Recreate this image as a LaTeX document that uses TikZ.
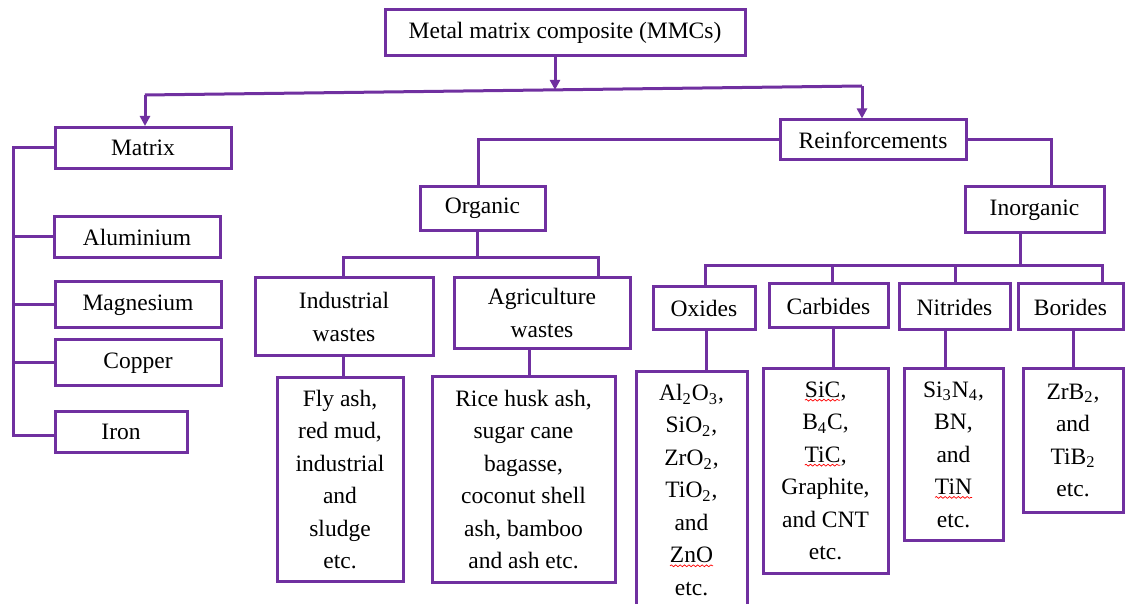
\documentclass[tikz,border=0pt]{standalone}
\usepackage{fontspec}
\setmainfont{Liberation Serif}
\usetikzlibrary{arrows.meta, decorations.pathmorphing}
\definecolor{mmcpurple}{HTML}{7030A0}
% red wavy underline used under a few formula names
\newcommand\spellchk[1]{\tikz[baseline=(w.base), x=1pt, y=1pt]{%
  \node[inner sep=0pt, outer sep=0pt, minimum width=0pt, minimum height=0pt,
        draw=none, fill=none] (w) {#1};
  \draw[red, line width=0.35pt, decorate,
        decoration={snake, amplitude=0.45pt, segment length=2.2pt}]
    ([yshift=-1.4pt]w.base west) -- ([yshift=-1.4pt]w.base east);}}
\tikzset{
  box/.style={draw=mmcpurple, line width=1.5pt, fill=white, inner sep=0pt,
    align=center, font=\fontsize{11.75}{16.25}\selectfont},
  conn/.style={draw=mmcpurple, line width=1.5pt},
  arr/.style={conn, -{Triangle[length=5pt,width=5pt]}},
}
\begin{document}
\begin{tikzpicture}[x=0.5pt, y=-0.5pt]
\useasboundingbox (0,0) rectangle (1125,604);
\clip (0,0) rectangle (1125,604);

% ---- boxes (centre in px, size in pt) ----
\node[box, minimum width=180pt, minimum height=23pt] (top) at (565,33) {Metal matrix composite (MMCs)};

\node[box, minimum width=88pt, minimum height=20.5pt, text depth=0pt] (matrix) at (143,148) {Matrix};
\node[box, minimum width=83pt, minimum height=20.5pt, text depth=0pt] (alu) at (137,237) {Aluminium};
\node[box, minimum width=83pt, minimum height=23pt] (mag) at (138,305) {Magnesium};
\node[box, minimum width=83pt, minimum height=23pt] (cop) at (138,363) {Copper};
\node[box, minimum width=66pt, minimum height=20.5pt, text depth=0pt] (iron) at (121,432) {Iron};

\node[box, minimum width=93pt, minimum height=20pt] (reinf) at (873,140) {Reinforcements};
\node[box, minimum width=62.5pt, minimum height=22pt] (organic) at (482.5,208.5) {Organic};
\node[box, minimum width=69.5pt, minimum height=23pt] (inorganic) at (1034.5,210) {Inorganic};

\node[box, minimum width=89pt, minimum height=39pt] (industrial) at (344,317) {Industrial\\wastes};
\node[box, minimum width=88pt, minimum height=35.5pt] (agri) at (542,313) {Agriculture\\wastes};
\node[box, minimum width=63pt, minimum height=101.5pt] (flyash) at (340,479.5)
  {Fly ash,\\red mud,\\industrial\\and\\sludge\\etc.};
\node[box, minimum width=91.5pt, minimum height=102.5pt] (rice) at (523.5,479.5)
  {Rice husk ash,\\sugar cane\\bagasse,\\coconut shell\\ash, bamboo\\and ash etc.};

\node[box, minimum width=51pt, minimum height=21.5pt, text depth=0pt] (oxides) at (704,308.5) {Oxides};
\node[box, minimum width=59.5pt, minimum height=22pt] (carbides) at (828.5,306) {Carbides};
\node[box, minimum width=55.5pt, minimum height=23pt] (nitrides) at (954.5,307) {Nitrides};
\node[box, minimum width=52.5pt, minimum height=23pt] (borides) at (1070.5,307) {Borides};

\node[box, minimum width=55.5pt, minimum height=118pt] (oxlist) at (691.5,490)
  {Al\textsubscript{2}O\textsubscript{3},\\SiO\textsubscript{2},\\ZrO\textsubscript{2},\\TiO\textsubscript{2},\\and\\\spellchk{ZnO}\\etc.};
\node[box, minimum width=62.5pt, minimum height=102pt] (carlist) at (825.5,471)
  {\spellchk{SiC},\\B\textsubscript{4}C,\\\spellchk{TiC},\\Graphite,\\and CNT\\etc.};
\node[box, minimum width=49.5pt, minimum height=85.5pt] (nitlist) at (953.5,454.5)
  {Si\textsubscript{3}N\textsubscript{4},\\BN,\\and\\\spellchk{TiN}\\etc.};
\node[box, minimum width=50pt, minimum height=71.5pt] (borlist) at (1073,440.5)
  {ZrB\textsubscript{2},\\and\\TiB\textsubscript{2}\\etc.};

% ---- connector junctions ----
\coordinate (jl) at (145,95);
\coordinate (jr) at (862,86);
\coordinate (j0) at (555,89.9);
\coordinate (spine) at (13,0);
\coordinate (ri) at (1051,0);
\coordinate (ob) at (0,258);
\coordinate (agx) at (598,0);
\coordinate (ricex) at (529,0);
\coordinate (inx) at (1020,0);
\coordinate (ib) at (0,266);
\coordinate (borx) at (1102,0);
\coordinate (nitx) at (945,0);

% ---- top level ----
\draw[arr] (top.south -| j0) -- (j0);
\draw[conn] (jl) -- (jr);
\draw[arr] (jl) -- (jl |- matrix.north);
\draw[arr] (jr) -- (jr |- reinf.north);

% ---- matrix metals ----
\draw[conn] (matrix.west) -- (matrix.west -| spine) -- (spine |- 0,435) -- (iron.west |- 0,435);
\foreach \b in {alu, mag, cop}
  \draw[conn] (\b.west -| spine) -- (\b.west);

% ---- reinforcements ----
\draw[conn] (reinf.west) -| (organic.north -| 478,0);
\draw[conn] (reinf.east) -| (ri |- inorganic.north);

% ---- organic branch ----
\draw[conn] (organic.south -| 477,0) -- (477,258);
\draw[conn] (industrial.north -| 343,0) |- (agx |- ob) -- (agx |- agri.north);
\draw[conn] (industrial.south -| 343,0) -- (343,0 |- flyash.north);
\draw[conn] (ricex |- agri.south) -- (ricex |- rice.north);

% ---- inorganic branch ----
\draw[conn] (inx |- inorganic.south) -- (inx |- ib);
\draw[conn] (oxides.north -| 705,0) |- (borx |- ib) -- (borx |- borides.north);
\draw[conn] (carbides.north -| 832,0) -- (832,266);
\draw[conn] (nitrides.north -| 955,0) -- (955,266);

\draw[conn] (oxides.south -| 706,0) -- (706,0 |- oxlist.north);
\draw[conn] (carbides.south -| 833,0) -- (833,0 |- carlist.north);
\draw[conn] (nitx |- nitrides.south) -- (nitx |- nitlist.north);
\draw[conn] (borides.south -| 1073,0) -- (1073,0 |- borlist.north);
\end{tikzpicture}
\end{document}
